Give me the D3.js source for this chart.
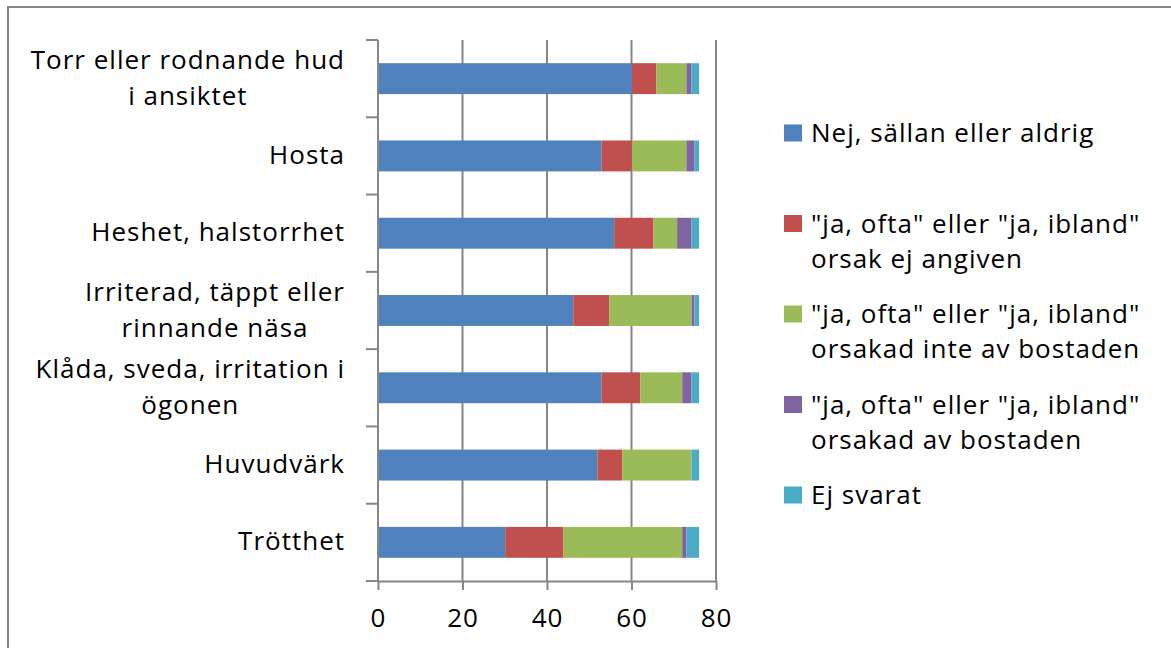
<!DOCTYPE html>
<html>
<head>
<meta charset="utf-8">
<script src="https://cdn.jsdelivr.net/npm/d3@7"></script>
<style>
  body { margin: 0; background: #fff; }
  svg { display: block; font-family: "Open Sans", sans-serif; }
</style>
</head>
<body>
<svg id="chart" width="1171" height="648"></svg>
<script>
// symptom categories, top to bottom (line breaks as in the original)
const categories = [
  ["Torr eller rodnande hud", "i ansiktet"],
  ["Hosta"],
  ["Heshet, halstorrhet"],
  ["Irriterad, täppt eller", "rinnande näsa"],
  ["Klåda, sveda, irritation i", "ögonen"],
  ["Huvudvärk"],
  ["Trötthet"],
];

// answer shares (%) per category
const nej = [60.1, 52.9, 55.9, 46.2, 52.9, 51.9, 30.1];
const ejAngiven = [5.8, 7.2, 9.3, 8.5, 9.2, 5.9, 13.8];
const inteAvBostaden = [7.1, 12.9, 5.6, 19.5, 9.9, 16.4, 28.1];
const avBostaden = [1.2, 1.9, 3.4, 0.7, 2.2, 0, 1.0];
const ejSvarat = [1.8, 1.1, 1.8, 1.1, 1.8, 1.8, 3.0];

const seriesKeys = ["nej", "ejAngiven", "inteAvBostaden", "avBostaden", "ejSvarat"];
const seriesLabels = [
  ["Nej, sällan eller aldrig"],
  ["\"ja, ofta\"  eller \"ja, ibland\"", "orsak ej angiven"],
  ["\"ja, ofta\"  eller \"ja, ibland\"", "orsakad inte av bostaden"],
  ["\"ja, ofta\"  eller \"ja, ibland\"", "orsakad av bostaden"],
  ["Ej svarat"],
];
const seriesColors = ["#4f81bd", "#c0504d", "#9bbb59", "#8064a2", "#4bacc6"];
const xTicks = [0, 20, 40, 60, 80];

const W = 1171, H = 648;
const AXIS = "#868686";
const FONT = 26;
const svg = d3.select("#chart");

// outer frame (runs past the right and bottom edge)
svg.append("rect")
  .attr("x", 8).attr("y", 7).attr("width", W).attr("height", H)
  .attr("fill", "#fff").attr("stroke", AXIS).attr("stroke-width", 2);

const plot = { left: 378, right: 716, top: 40, bottom: 581 };
const names = categories.map((c) => c.join(" "));

const x = d3.scaleLinear().domain([0, 80]).range([plot.left, plot.right]);
const y = d3.scaleBand().domain(names).range([plot.top, plot.bottom])
  .paddingInner(0.6).paddingOuter(0.3);

const rows = names.map((name, i) => ({
  name,
  nej: nej[i], ejAngiven: ejAngiven[i], inteAvBostaden: inteAvBostaden[i],
  avBostaden: avBostaden[i], ejSvarat: ejSvarat[i],
}));
const stacked = d3.stack().keys(seriesKeys)(rows);

// vertical gridlines
svg.append("g")
  .selectAll("line")
  .data(xTicks.filter((t) => t > 0))
  .join("line")
  .attr("x1", (d) => x(d)).attr("x2", (d) => x(d))
  .attr("y1", plot.top).attr("y2", plot.bottom)
  .attr("stroke", AXIS).attr("stroke-width", 2);

// bars
svg.append("g")
  .selectAll("g")
  .data(stacked)
  .join("g")
  .attr("fill", (d, i) => seriesColors[i])
  .selectAll("rect")
  .data((d) => d)
  .join("rect")
  .attr("x", (d) => x(d[0]))
  .attr("width", (d) => Math.max(0, x(d[1]) - x(d[0])))
  .attr("y", (d) => y(d.data.name))
  .attr("height", y.bandwidth());

// y axis: line + category boundary ticks
const yAxis = svg.append("g").attr("stroke", AXIS).attr("stroke-width", 2);
yAxis.append("line")
  .attr("x1", plot.left).attr("x2", plot.left)
  .attr("y1", plot.top).attr("y2", plot.bottom);
yAxis.selectAll("line.tick")
  .data(d3.range(names.length + 1))
  .join("line")
  .attr("class", "tick")
  .attr("x1", plot.left - 12).attr("x2", plot.left)
  .attr("y1", (i) => plot.top + i * y.step())
  .attr("y2", (i) => plot.top + i * y.step());

// x axis
const xAxis = svg.append("g")
  .attr("transform", `translate(0,${plot.bottom})`)
  .call(d3.axisBottom(x).tickValues(xTicks).tickSize(9).tickSizeOuter(0).tickPadding(19));
xAxis.select(".domain").attr("stroke", AXIS).attr("stroke-width", 2);
xAxis.selectAll(".tick line").attr("stroke", AXIS).attr("stroke-width", 2);
xAxis.selectAll(".tick text")
  .attr("font-family", "Open Sans, sans-serif").attr("font-size", FONT)
  .attr("letter-spacing", 1).attr("fill", "#000");

// category labels, centred lines, block right-aligned to the axis
const LINE = 36;
const labels = svg.append("g").attr("font-size", FONT).attr("letter-spacing", 1).attr("fill", "#000");
categories.forEach((lines, i) => {
  const cy = y(names[i]) + y.bandwidth() / 2;
  const g = labels.append("g");
  const texts = g.selectAll("text")
    .data(lines)
    .join("text")
    .attr("y", (d, k) => cy + 8 + (k - (lines.length - 1) / 2) * LINE)
    .text((d) => d);
  const maxW = d3.max(texts.nodes(), (n) => n.getComputedTextLength());
  texts.attr("x", 345 - maxW / 2).attr("text-anchor", "middle");
});

// legend
const legend = svg.append("g").attr("font-size", FONT).attr("letter-spacing", 1).attr("fill", "#000");
seriesLabels.forEach((lines, i) => {
  const cy = 133 + i * 90.5;
  const g = legend.append("g");
  g.append("rect")
    .attr("x", 784).attr("y", cy - 8.5).attr("width", 18).attr("height", 17)
    .attr("fill", seriesColors[i]);
  g.selectAll("text")
    .data(lines)
    .join("text")
    .attr("x", 811)
    .attr("y", (d, k) => cy + 9 + k * 35)
    .text((d) => d);
});
</script>
</body>
</html>
